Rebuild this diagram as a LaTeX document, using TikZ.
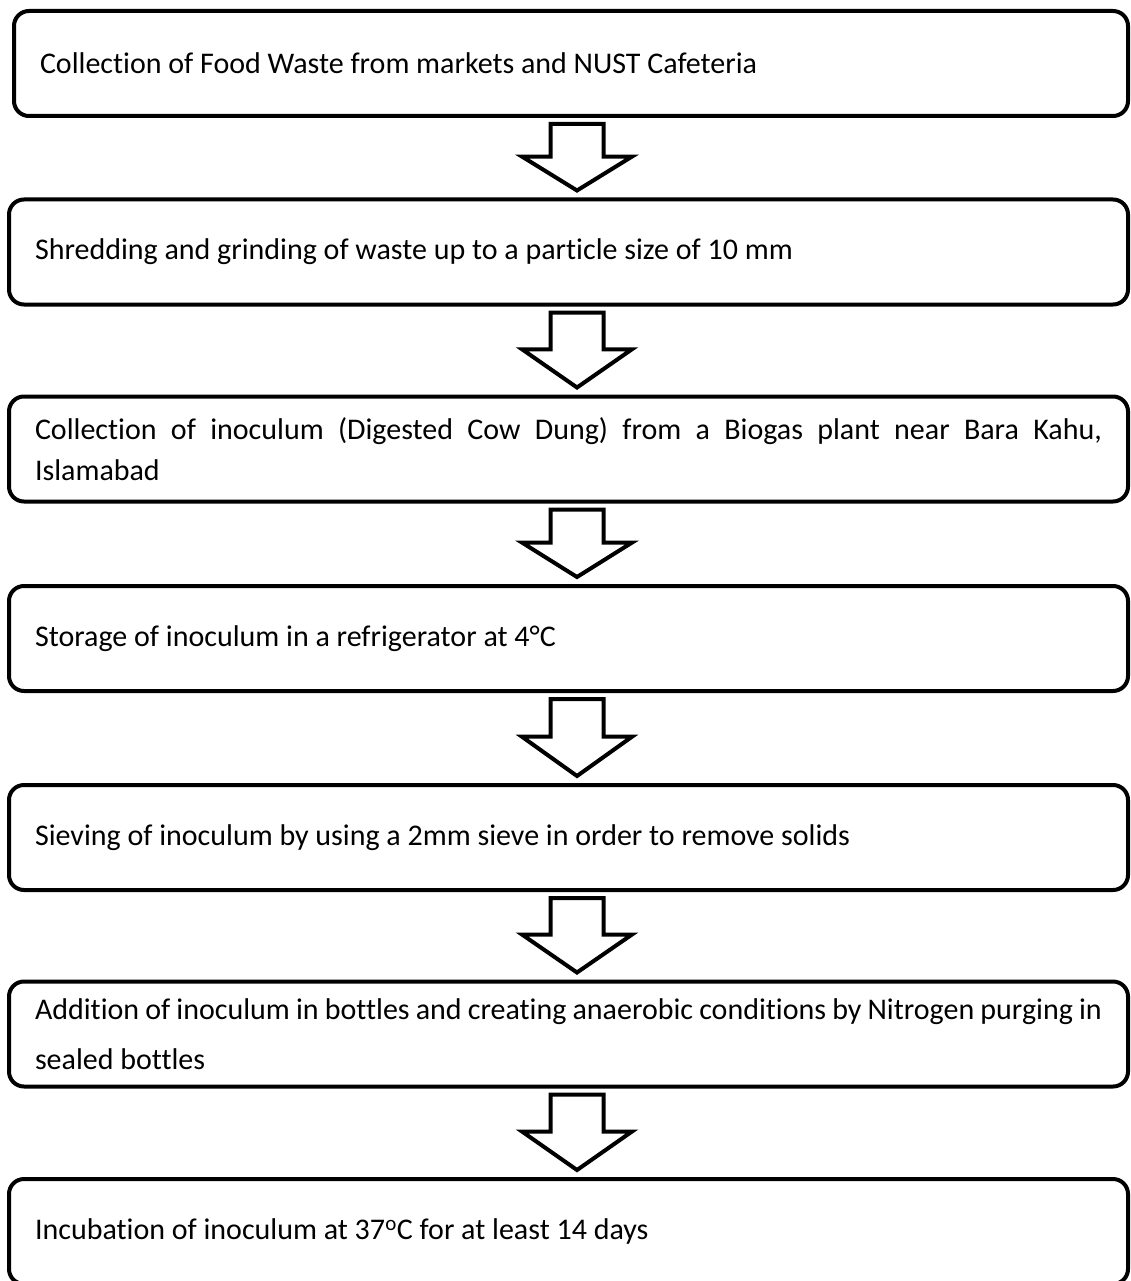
\documentclass[tikz,border=0pt]{standalone}
\usepackage{fontspec}
\setmainfont{Carlito}[Ligatures=CommonOff]
\usetikzlibrary{positioning, calc}

\begin{document}
\begin{tikzpicture}[
    x=1pt, y=-1pt,
    font=\fontsize{30}{41}\selectfont,
    stepbox/.style={
        rectangle,
        rounded corners=15pt,
        draw=black,
        line width=4pt,
        outer sep=0pt,
        align=justify,
        text width=1067pt,
        inner xsep=26pt,
        inner ysep=3pt,
        minimum height=105pt
    },
    blockarrow/.style={
        draw=black, line width=4pt, fill=white, line join=miter,
        to path={
            let \p1=(\tikztostart.south), \p2=(\tikztotarget.north),
                \n1={\x2+8.5pt}, \n2={\y1-8pt}, \n3={\y2+9pt},
                \n4={\n2-0.49*(\n2-(\n3))}
            in ({\n1-26.5pt},{\n2}) -- ({\n1+26.5pt},{\n2}) -- ({\n1+26.5pt},{\n4})
               -- ({\n1+55pt},{\n4}) -- ({\n1},{\n3}) -- ({\n1-55pt},{\n4})
               -- ({\n1-26.5pt},{\n4}) -- cycle
        }
    }
]

\useasboundingbox (0,0) rectangle (1130,1281);
\clip (0,0) rectangle (1130,1281);

\node[stepbox, text width=1062pt] (collect) at (571,63.5) {Collection of Food Waste from markets and NUST Cafeteria};
\node[stepbox, below=83.5pt of collect, xshift=-2.5pt] (shred) {Shredding and grinding of waste up to a particle size of 10 mm};
\node[stepbox, below=92pt of shred] (inoc) {Collection of inoculum (Digested Cow Dung) from a Biogas plant near Bara Kahu,\linebreak Islamabad};
\node[stepbox, below=84.5pt of inoc] (store) {Storage of inoculum in a refrigerator at 4°C};
\node[stepbox, below=94pt of store] (sieve) {Sieving of inoculum by using a 2mm sieve in order to remove solids};
\node[stepbox, below=91.5pt of sieve, font=\fontsize{30}{50}\selectfont] (addbot) {Addition of inoculum in bottles and creating anaerobic conditions by Nitrogen purging in\linebreak sealed bottles};
\node[stepbox, below=92.5pt of addbot] (incub) {Incubation of inoculum at 37\textsuperscript{o}C for at least 14 days};

\draw[blockarrow] (collect) to (shred);
\draw[blockarrow] (shred) to (inoc);
\draw[blockarrow] (inoc) to (store);
\draw[blockarrow] (store) to (sieve);
\draw[blockarrow] (sieve) to (addbot);
\draw[blockarrow] (addbot) to (incub);

\end{tikzpicture}
\end{document}
